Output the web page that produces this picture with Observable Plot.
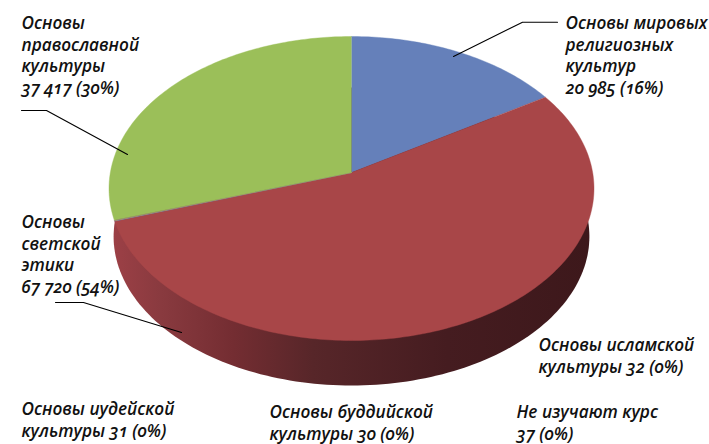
<!DOCTYPE html>
<html><head><meta charset="utf-8">
<script src="https://cdn.jsdelivr.net/npm/d3@7"></script>
<script src="https://cdn.jsdelivr.net/npm/@observablehq/plot@0.6"></script>
<style>html,body{margin:0;padding:0;background:#fff}svg{display:block}</style>
</head><body><div id="chart"></div>
<script>
// Data, clockwise from 12 o'clock
const categories = ["Основы мировых религиозных культур","Основы светской этики","Основы исламской культуры","Основы буддийской культуры","Основы иудейской культуры","Не изучают курс","Основы православной культуры"];
const values = [20985, 67720, 32, 30, 31, 37, 37417];
const colors = ["#6580BA","#A84648","#8064A2","#4BACC6","#F79646","#7F7F7F","#9BBF59"];
const labelTexts = [
  "Основы мировых\nрелигиозных\nкультур\n20 985 (16%)",
  "Основы\nсветской\nэтики\n67 720 (54%)",
  "Основы исламской\nкультуры 32 (0%)",
  "Основы буддийской\nкультуры 30 (0%)",
  "Основы иудейской\nкультуры 31 (0%)",
  "Не изучают курс\n37 (0%)",
  "Основы\nправославной\nкультуры\n37 417 (30%)"
];
// label anchors in pixels of the frame (left, first baseline)
const labelPos = [[565,30],[21,229],[538,352],[269,419],[21,416],[516,419],[21,30]];
const leaders = [
  [[557,21.7],[522,21.7],[453,56]],
  [[55,302],[83,302],[181,332]],
  [[21,110],[46,110],[127,154]]
];

const W = 709, H = 444;
const left = 108.5, right = 593.5, top_ = 36, bottom = 340;
const beta = 0.105;               // perspective shift of the pie's apex
const warp = 0.036;               // slight angular foreshortening of the 3-D view
const fontSize = 17.2;
const total = d3.sum(values);
const xPx = p => -1 + 2 * (p - left) / (right - left);
const yPx = p => 1 - 2 * (p - top_) / (bottom - top_);

// point on the disc rim for a clockwise angle from the top
function rim(a) {
  const t = a - warp * Math.sin(2 * a);
  const u = Math.sin(t), v = Math.cos(t), d = 1 + beta * v;
  return {x: u * Math.sqrt(1 - beta * beta) / d, y: (v + beta) / d};
}
let acc = 0;
const slices = values.map((v, i) => {
  const a0 = acc / total * 2 * Math.PI; acc += v;
  const a1 = acc / total * 2 * Math.PI;
  const n = Math.max(2, Math.ceil((a1 - a0) * 60));
  const pts = [{x: 0, y: beta}];
  for (let k = 0; k <= n; k++) pts.push(rim(a0 + (a1 - a0) * k / n));
  return {pts, color: colors[i]};
});
// lower rim of the slab: the same circle seen further away
const wall = d3.range(0, 241).map(k => {
  const t = k / 240 * 2 * Math.PI;
  return {x: 0.981 * Math.sin(t), y: -0.316 + 0.98 * Math.cos(t)};
});
const wallDefs = () => {
  const g = d3.create("svg:defs");
  const lg = g.append("linearGradient").attr("id", "wallGrad").attr("x1", 0).attr("x2", 1).attr("y1", 0).attr("y2", 0);
  [[0, "#9c4046"], [0.1, "#893a3f"], [0.25, "#742d32"], [0.42, "#572629"], [0.7, "#451c20"], [1, "#3d181b"]]
    .forEach(([o, c]) => lg.append("stop").attr("offset", o).attr("stop-color", c));
  return g.node();
};

const chart = Plot.plot({
  width: W, height: H, margin: 0, axis: null,
  x: {domain: [xPx(0), xPx(W)], range: [0, W]},
  y: {domain: [yPx(0), yPx(H)], range: [0, H]},
  style: {background: "#fff", fontFamily: "'Open Sans', sans-serif", fontVariantNumeric: "oldstyle-nums", color: "#111"},
  marks: [
    wallDefs,
    Plot.line(wall, {x: "x", y: "y", fill: "url(#wallGrad)", stroke: "none"}),
    ...slices.map(s => Plot.line(s.pts, {x: "x", y: "y", fill: s.color, stroke: s.color, strokeWidth: 0.4})),
    ...leaders.map(l => Plot.line(l, {x: d => xPx(d[0]), y: d => yPx(d[1]), stroke: "#000", strokeWidth: 1.1})),
    ...labelTexts.map((t, i) => Plot.text([t], {
      text: d => d, frameAnchor: "top-left", textAnchor: "start", lineAnchor: "top",
      dx: labelPos[i][0], dy: labelPos[i][1] - fontSize, fontSize, fontStyle: "italic", fontWeight: 600,
      lineHeight: 1.265, fill: "#111"
    }))
  ]
});
document.getElementById("chart").append(chart);
</script></body></html>
